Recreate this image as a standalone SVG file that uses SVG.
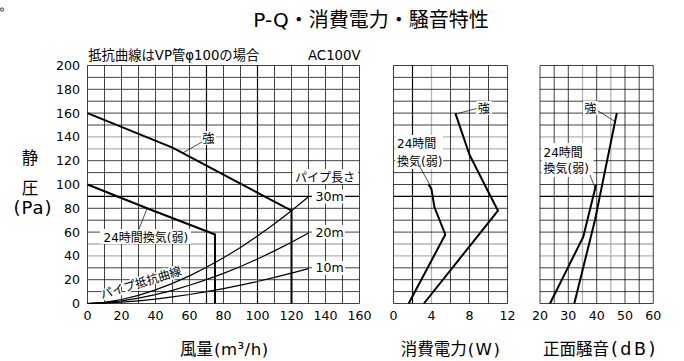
<svg xmlns="http://www.w3.org/2000/svg" width="684" height="361" viewBox="0 0 684 361">
<style>
text{font-family:"DejaVu Sans","Noto Sans CJK JP",sans-serif;fill:#000}
.t12{font-size:12px}
.tk{font-size:12.6px}
.t13{font-size:13.3px}
.ax{font-size:16.5px}
.ttl{font-size:20px}
.g{stroke:#111;stroke-width:0.8;fill:none}
.gd{stroke:#000;stroke-width:1.15;fill:none}
.gl{stroke:#b4b4b4;stroke-width:1.3;fill:none}
.c{stroke:#000;stroke-width:2;fill:none;stroke-linejoin:round}
.p{stroke:#000;stroke-width:1.2;fill:none}
.ld{stroke:#000;stroke-width:0.7;fill:none}
.bg{fill:#fff}
.halo{stroke:#fff;stroke-width:3;paint-order:stroke}
.mid{text-anchor:middle}
.end{text-anchor:end}
</style>

<circle cx="2" cy="9.5" r="1.6" fill="none" stroke="#000" stroke-width="0.8"/>

<g id="title">
<text class="ttl mid" x="371" y="26.5">P-Q・消費電力・騒音特性</text>
</g>

<g id="annotations">
<text class="t13" x="88.3" y="59.5">抵抗曲線はVP管φ100の場合</text>
<text class="t13" x="308" y="59.5">AC100V</text>
</g>

<g id="axis-y-title">
<text class="ax mid" x="30" y="163.5">静</text>
<text class="ax mid" x="30" y="193.5">圧</text>
<text x="13.5" y="213.5" font-size="18" letter-spacing="1">(Pa)</text>
</g>

<g id="grid">
<path class="gl" d="M87.5 136.9H359.5M87.5 148.8H359.5M87.5 244H359.5M87.5 255.9H359.5M393.5 136.9H507.5M393.5 148.8H507.5M393.5 244H507.5M393.5 255.9H507.5M540 136.9H653.3M540 148.8H653.3M540 244H653.3M540 255.9H653.3M431.5 65.5V303.5M582.5 65.5V303.5M610.8 65.5V303.5"/>
<path class="g" d="M87.5 65.5H359.5M87.5 77.4H359.5M87.5 89.3H359.5M87.5 101.2H359.5M87.5 113.1H359.5M87.5 125H359.5M87.5 160.7H359.5M87.5 172.6H359.5M87.5 184.5H359.5M87.5 208.3H359.5M87.5 220.2H359.5M87.5 232.1H359.5M87.5 267.8H359.5M87.5 279.7H359.5M87.5 291.6H359.5M87.5 303.5H359.5
M87.5 65.5V303.5M104.5 65.5V303.5M121.5 65.5V303.5M138.5 65.5V303.5M155.5 65.5V303.5M172.5 65.5V303.5M189.5 65.5V303.5M223.5 65.5V303.5M240.5 65.5V303.5M274.5 65.5V303.5M291.5 65.5V303.5M308.5 65.5V303.5M325.5 65.5V303.5M342.5 65.5V303.5M359.5 65.5V303.5"/>
<path class="gd" d="M87.5 196.4H359.5M206.5 65.5V303.5M257.5 65.5V303.5"/>
<path class="g" d="M393.5 65.5H507.5M393.5 77.4H507.5M393.5 89.3H507.5M393.5 101.2H507.5M393.5 113.1H507.5M393.5 125H507.5M393.5 160.7H507.5M393.5 172.6H507.5M393.5 184.5H507.5M393.5 208.3H507.5M393.5 220.2H507.5M393.5 232.1H507.5M393.5 267.8H507.5M393.5 279.7H507.5M393.5 291.6H507.5M393.5 303.5H507.5
M393.5 65.5V303.5M450.5 65.5V303.5M469.5 65.5V303.5M488.5 65.5V303.5M507.5 65.5V303.5"/>
<path class="gd" d="M393.5 196.4H507.5M412.5 65.5V303.5"/>
<path class="g" d="M540 65.5H653.3M540 77.4H653.3M540 89.3H653.3M540 101.2H653.3M540 113.1H653.3M540 125H653.3M540 160.7H653.3M540 172.6H653.3M540 184.5H653.3M540 208.3H653.3M540 220.2H653.3M540 232.1H653.3M540 267.8H653.3M540 279.7H653.3M540 291.6H653.3M540 303.5H653.3
M540 65.5V303.5M554.2 65.5V303.5M568.3 65.5V303.5M596.7 65.5V303.5M625 65.5V303.5M639.2 65.5V303.5M653.3 65.5V303.5"/>
<path class="gd" d="M540 196.4H653.3"/>
</g>

<g id="label-backgrounds">
<rect class="bg" x="201" y="131" width="15" height="14"/>
<rect class="bg" x="100" y="229" width="91" height="15"/>
<rect class="bg" x="293" y="169" width="65" height="15"/>
<rect class="bg" x="312" y="189.5" width="33" height="14"/>
<rect class="bg" x="312" y="225" width="33" height="14"/>
<rect class="bg" x="312" y="261" width="33" height="14"/>
<rect class="bg" x="476" y="101" width="16" height="14"/>
<rect class="bg" x="395" y="135" width="48" height="34"/>
<rect class="bg" x="583" y="101" width="15" height="14"/>
<rect class="bg" x="541.5" y="143" width="52" height="34"/>
</g>

<g id="connectors">
<path class="ld" d="M183 152.8L202 142M138.5 230L147 208.8M456 114L476.5 108.5M420 167L430 185M597.5 110.5L615 121.5M590 175L595.5 189"/>
</g>

<g id="curves-pq">
<path class="c" d="M87.5 113.1L172.5 147.6L291.5 210.7V303.5"/>
<path class="c" d="M87.5 184.5L147 208.3L215 234.5V303.5"/>
<path class="p" d="M87.5 303.5L104.5 302.3L121.5 299.5L138.5 295.3L155.5 289.9L172.5 283.4L189.5 275.9L206.5 267.3L223.5 257.8L240.5 247.5L257.5 236L274.5 223.8L291.5 210.7L308.5 196.8"/>
<path class="p" d="M87.5 303.5L104.5 302.7L121.5 300.8L138.5 298.1L155.5 294.6L172.5 290.3L189.5 285.3L206.5 279.6L223.5 273.4L240.5 266.5L257.5 259L274.5 250.9L291.5 242.2L308.5 233"/>
<path class="p" d="M87.5 303.5L104.5 303.1L121.5 302.2L138.5 300.8L155.5 299.1L172.5 296.9L189.5 294.5L206.5 291.7L223.5 288.6L240.5 285.2L257.5 281.5L274.5 277.4L291.5 273.2L308.5 268.6"/>
</g>

<g id="curves-power">
<path class="c" d="M455.3 113.1L469.5 154.8L487.6 190.5L498 210.7L423.9 303.5"/>
<path class="c" d="M428.7 184.5L431.5 189.3L434.4 207.1L445.3 234.5L408.7 303.5"/>
</g>

<g id="curves-noise">
<path class="c" d="M616.8 113.1L595 220L574.3 303.5"/>
<path class="c" d="M596 185L583.3 236.7L550 303.5"/>
</g>

<g id="labels">
<text class="t12 mid" x="208.5" y="142.5">強</text>
<text class="t12" x="103.5" y="241.5">24時間換気(弱)</text>
<text class="t12" x="295" y="181.5">パイプ長さ</text>
<text class="tk" x="315.5" y="201">30m</text>
<text class="tk" x="315.5" y="236.7">20m</text>
<text class="tk" x="315.5" y="272.4">10m</text>
<text class="t12 halo" x="102" y="299" transform="rotate(-17 102 299)" font-size="11">パイプ抵抗曲線</text>
<text class="t12 mid" x="484" y="112.5">強</text>
<text class="t12" x="397" y="148">24時間</text>
<text class="t12" x="397" y="165.5">換気(弱)</text>
<text class="t12 mid" x="590.5" y="112.5">強</text>
<text class="t12" x="543.5" y="157">24時間</text>
<text class="t12" x="543.5" y="172.5">換気(弱)</text>
</g>

<g id="ticks">
<text class="tk end" x="80" y="70">200</text>
<text class="tk end" x="80" y="93.8">180</text>
<text class="tk end" x="80" y="117.6">160</text>
<text class="tk end" x="80" y="141.4">140</text>
<text class="tk end" x="80" y="165.2">120</text>
<text class="tk end" x="80" y="189">100</text>
<text class="tk end" x="80" y="212.8">80</text>
<text class="tk end" x="80" y="236.6">60</text>
<text class="tk end" x="80" y="260.4">40</text>
<text class="tk end" x="80" y="284.2">20</text>
<text class="tk end" x="80" y="308">0</text>
<text class="tk mid" x="87.5" y="319.8">0</text>
<text class="tk mid" x="121.5" y="319.8">20</text>
<text class="tk mid" x="155.5" y="319.8">40</text>
<text class="tk mid" x="189.5" y="319.8">60</text>
<text class="tk mid" x="223.5" y="319.8">80</text>
<text class="tk mid" x="257.5" y="319.8">100</text>
<text class="tk mid" x="291.5" y="319.8">120</text>
<text class="tk mid" x="325.5" y="319.8">140</text>
<text class="tk mid" x="359.5" y="319.8">160</text>
<text class="tk mid" x="393.5" y="319.8">0</text>
<text class="tk mid" x="431.5" y="319.8">4</text>
<text class="tk mid" x="469.5" y="319.8">8</text>
<text class="tk mid" x="507.5" y="319.8">12</text>
<text class="tk mid" x="540" y="319.8">20</text>
<text class="tk mid" x="568.3" y="319.8">30</text>
<text class="tk mid" x="596.7" y="319.8">40</text>
<text class="tk mid" x="625" y="319.8">50</text>
<text class="tk mid" x="653.3" y="319.8">60</text>
</g>

<g id="axis-x-titles">
<text class="ax" x="180" y="354.5">風量<tspan dx="1" letter-spacing="0.5">(m³/h)</tspan></text>
<text class="ax" x="400.7" y="354.5">消費電力<tspan dx="1" letter-spacing="1.5">(W)</tspan></text>
<text class="ax" x="543" y="354.5">正面騒音<tspan dx="2" letter-spacing="2.5" font-size="17.5">(dB)</tspan></text>
</g>
</svg>
